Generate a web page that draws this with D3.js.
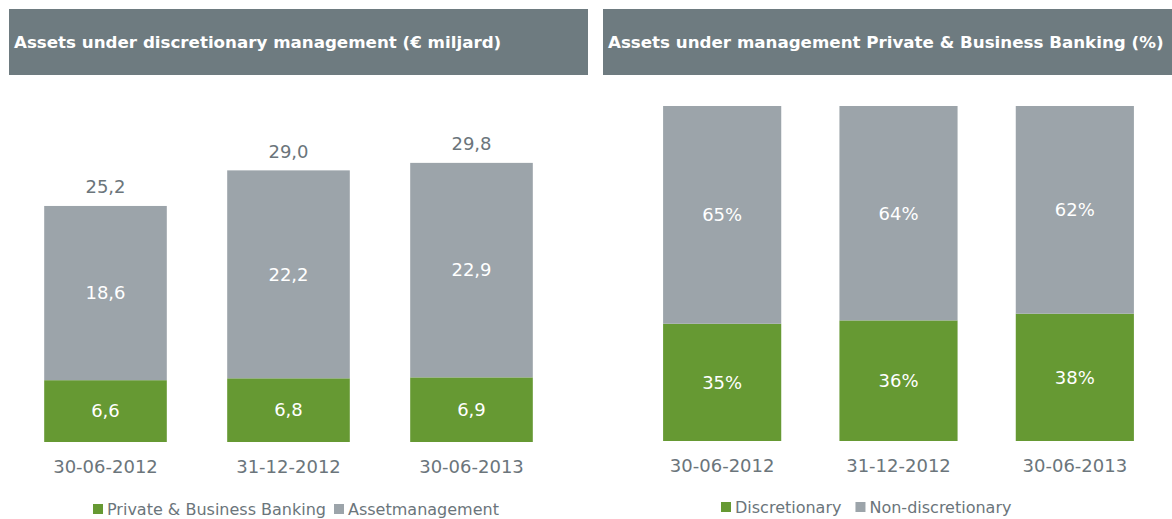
<!DOCTYPE html>
<html>
<head>
<meta charset="utf-8">
<script src="https://cdn.jsdelivr.net/npm/d3@7"></script>
<style>
  body { margin: 0; background: #fff; }
  text { font-family: "DejaVu Sans", Verdana, sans-serif; }
</style>
</head>
<body>
<svg id="chart" width="1172" height="519"></svg>
<script>
// Categories shared by both panels
const categories = ["30-06-2012", "31-12-2012", "30-06-2013"];

// Left panel: € miljard
const pbbValues = [6.6, 6.8, 6.9];
const amValues = [18.6, 22.2, 22.9];
const totalValues = [25.2, 29.0, 29.8];

// Right panel: %
const discValues = [35, 36, 38];
const nonDiscValues = [65, 64, 62];

const GREEN = "#669933";
const GREY = "#9ca4aa";
const HEADER = "#6e7b80";
const TEXT = "#6b757b";

const fmt = v => v.toFixed(1).replace(".", ",");

const svg = d3.select("#chart");

// --- Header bars ---
function header(x, w, title) {
    svg.append("rect")
        .attr("x", x).attr("y", 9).attr("width", w).attr("height", 66)
        .attr("fill", HEADER);
    svg.append("text")
        .attr("x", x + 5).attr("y", 48)
        .attr("fill", "#fff")
        .attr("font-size", 16.7)
        .attr("font-weight", "bold")
        .text(title);
}
header(9, 579, "Assets under discretionary management (€ miljard)");
header(603, 569, "Assets under management Private & Business Banking (%)");

// --- Generic stacked panel ---
function panel(opts) {
    const x = d3.scaleBand()
        .domain(categories)
        .range(opts.xRange)
        .paddingInner(0.33)
        .paddingOuter(0.165);
    const y = d3.scaleLinear().domain(opts.yDomain).range(opts.yRange);

    const rows = categories.map((c, i) => ({cat: c, low: opts.low[i], high: opts.high[i]}));
    const g = svg.append("g");

    // bottom segment (green)
    g.selectAll(".low").data(rows).enter().append("rect")
        .attr("x", d => x(d.cat)).attr("width", x.bandwidth())
        .attr("y", d => y(d.low)).attr("height", d => y(0) - y(d.low))
        .attr("fill", GREEN);

    // top segment (grey)
    g.selectAll(".high").data(rows).enter().append("rect")
        .attr("x", d => x(d.cat)).attr("width", x.bandwidth())
        .attr("y", d => y(d.low + d.high)).attr("height", d => y(d.low) - y(d.low + d.high))
        .attr("fill", GREY);

    // labels inside segments
    g.selectAll(".lowLbl").data(rows).enter().append("text")
        .attr("x", d => x(d.cat) + x.bandwidth() / 2)
        .attr("y", d => (y(0) + y(d.low)) / 2)
        .attr("dy", "0.35em").attr("text-anchor", "middle")
        .attr("fill", "#fff").attr("font-size", 18)
        .text(d => opts.fmt(d.low));
    g.selectAll(".highLbl").data(rows).enter().append("text")
        .attr("x", d => x(d.cat) + x.bandwidth() / 2)
        .attr("y", d => (y(d.low) + y(d.low + d.high)) / 2)
        .attr("dy", "0.35em").attr("text-anchor", "middle")
        .attr("fill", "#fff").attr("font-size", 18)
        .text(d => opts.fmt(d.high));

    // totals above bars
    if (opts.totals) {
        g.selectAll(".tot").data(rows).enter().append("text")
            .attr("x", d => x(d.cat) + x.bandwidth() / 2)
            .attr("y", (d, i) => y(opts.totals[i]) - 19)
            .attr("dy", "0.35em").attr("text-anchor", "middle")
            .attr("fill", TEXT).attr("font-size", 18)
            .text((d, i) => fmt(opts.totals[i]));
    }

    // category axis
    const axis = g.append("g")
        .attr("transform", `translate(0,${opts.yRange[0]})`)
        .call(d3.axisBottom(x).tickSize(0).tickPadding(18));
    axis.select(".domain").remove();
    axis.selectAll("text")
        .attr("fill", TEXT).attr("font-size", 18)
        .style("font-family", "DejaVu Sans, Verdana, sans-serif");

    // legend
    const lg = g.append("g");
    let cx = opts.legendX;
    opts.legend.forEach(item => {
        lg.append("rect")
            .attr("x", cx).attr("y", opts.legendY - 5)
            .attr("width", opts.sq).attr("height", opts.sq)
            .attr("fill", item.color);
        const t = lg.append("text")
            .attr("x", cx + opts.sq + 4).attr("y", opts.legendY)
            .attr("dy", "0.35em")
            .attr("fill", TEXT).attr("font-size", 16)
            .text(item.name);
        cx += opts.sq + 4 + t.node().getComputedTextLength() + opts.gap;
    });
}

panel({
    xRange: [14, 563],
    yDomain: [0, 30],
    yRange: [442, 161],
    low: pbbValues,
    high: amValues,
    totals: totalValues,
    fmt: fmt,
    legend: [{name: "Private & Business Banking", color: GREEN}, {name: "Assetmanagement", color: GREY}],
    legendX: 93, legendY: 509, sq: 10, gap: 8
});

panel({
    xRange: [634, 1163],
    yDomain: [0, 100],
    yRange: [441, 106],
    low: discValues,
    high: nonDiscValues,
    totals: null,
    fmt: v => v + "%",
    legend: [{name: "Discretionary", color: GREEN}, {name: "Non-discretionary", color: GREY}],
    legendX: 721, legendY: 507, sq: 10, gap: 14
});
</script>
</body>
</html>
